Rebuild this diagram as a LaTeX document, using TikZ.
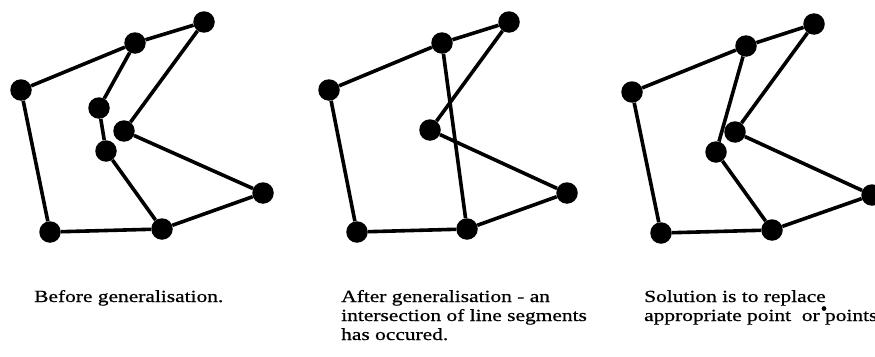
\documentclass[tikz,border=0pt]{standalone}
\usepackage{fontspec}
\setmainfont{Liberation Serif}
\newfontfamily\capfont[FakeStretch=1.26,FakeBold=0.8]{Liberation Serif}
\begin{document}
\begin{tikzpicture}[x=1pt,y=-1pt,
  vtx/.style={circle,fill=black,inner sep=0pt,minimum size=21.5pt},
  seg/.style={line width=3.6pt},
  caption/.style={anchor=base west,inner sep=0pt,font=\capfont\fontsize{17}{19}\selectfont}]
\useasboundingbox (0,0) rectangle (875,356);

% --- polygons before generalisation ---
\node[vtx] (a1) at (21,90) {};
\node[vtx] (b1) at (135,43) {};
\node[vtx] (c1) at (204,22) {};
\node[vtx] (d1) at (99,108) {};
\node[vtx] (e1) at (124,131) {};
\node[vtx] (f1) at (106,151) {};
\node[vtx] (g1) at (263,193) {};
\node[vtx] (h1) at (50,232) {};
\node[vtx] (i1) at (162,229) {};
\draw[seg] (a1) -- (b1) -- (c1) -- (e1) -- (g1) -- (i1) -- (h1) -- (a1);
\draw[seg] (b1) -- (d1) -- (f1) -- (i1);

% --- after generalisation: shared boundary collapsed ---
\node[vtx] (a2) at (329,90) {};
\node[vtx] (b2) at (442,43) {};
\node[vtx] (c2) at (509,22) {};
\node[vtx] (e2) at (430,130) {};
\node[vtx] (g2) at (567,193) {};
\node[vtx] (h2) at (357,232) {};
\node[vtx] (i2) at (467,229) {};
\draw[seg] (a2) -- (b2) -- (c2) -- (e2) -- (g2) -- (i2) -- (h2) -- (a2);
\draw[seg] (b2) -- (i2);

% --- repaired boundary with a replacement point ---
\node[vtx] (a3) at (632,92) {};
\node[vtx] (b3) at (746,46) {};
\node[vtx] (c3) at (814,24) {};
\node[vtx] (e3) at (735,132) {};
\node[vtx] (f3) at (716,152) {};
\node[vtx] (g3) at (872,195) {};
\node[vtx] (h3) at (661,233) {};
\node[vtx] (i3) at (772,230) {};
\draw[seg] (a3) -- (b3) -- (c3) -- (e3) -- (g3) -- (i3) -- (h3) -- (a3);
\draw[seg] (b3) -- (f3) -- (i3);

% --- captions ---
\node[caption] (t1) at (34,302) {Before generalisation.};
\node[caption] (t2a) at (341,302) {After generalisation - an};
\node[caption] (t2b) at (341,321) {intersection of line segments};
\node[caption] (t2c) at (341,340) {has occured.};
\node[caption] (t3a) at (644,302) {Solution is to replace};
\node[caption] (t3b) at (644,321) {appropriate point\ \ or points};
\fill (824,308.5) circle (2.4pt);
\end{tikzpicture}
\end{document}
